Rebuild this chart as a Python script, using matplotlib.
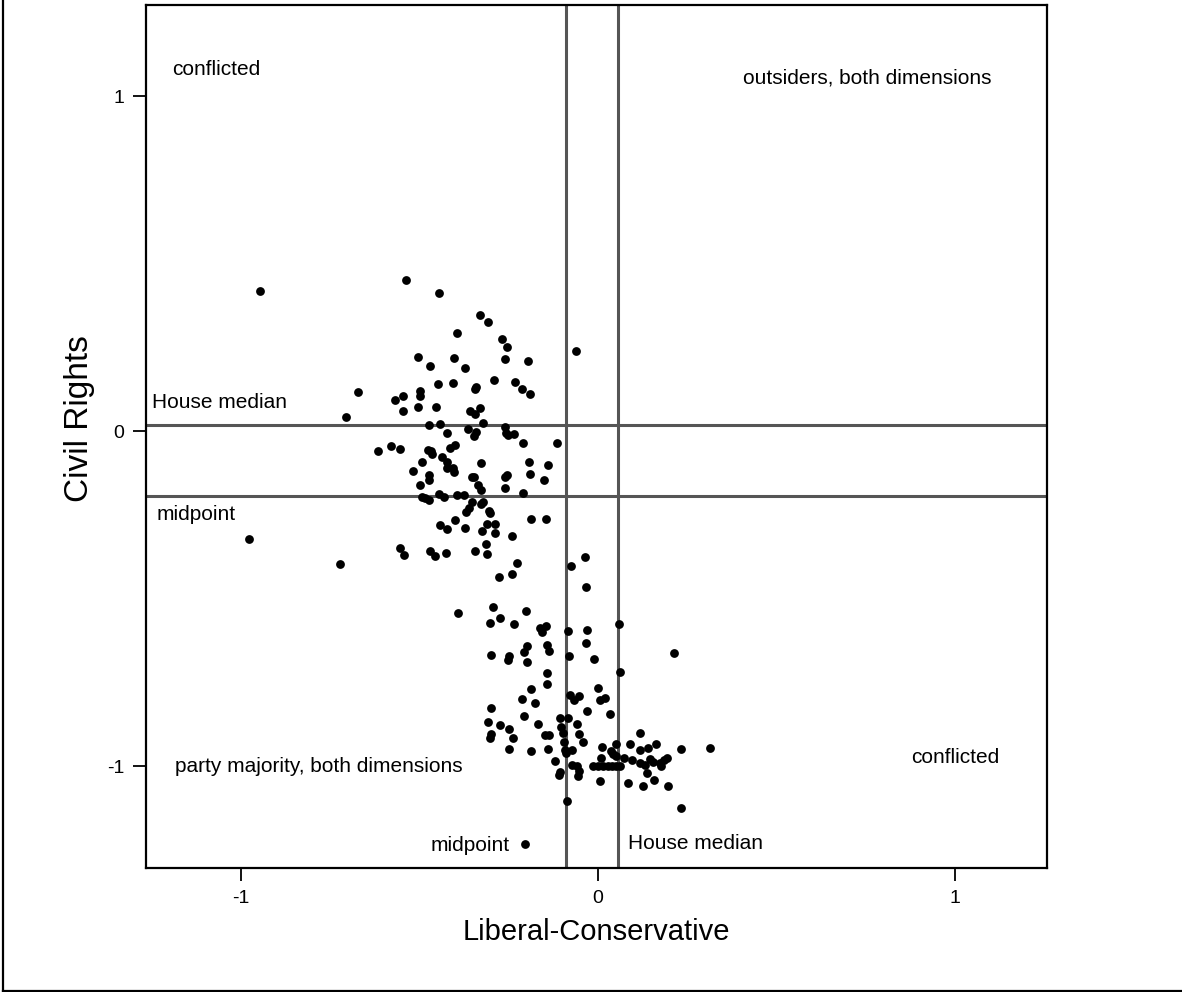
"""Two-dimensional roll-call map: liberal-conservative vs civil rights scores."""

from __future__ import annotations

import matplotlib

matplotlib.use("Agg")
import matplotlib.pyplot as plt
from matplotlib.lines import Line2D


OUTPUT = "out.png"

# Member scores (first dimension, second dimension).
LIB_CONS = [
    -0.947, -0.672, -0.705, -0.538, -0.446, -0.331, -0.308, -0.396, -0.270, -0.256,
    -0.503, -0.403, -0.261, -0.196, -0.471, -0.372, -0.291, -0.233, -0.448, -0.406,
    -0.341, -0.345, -0.212, -0.189, -0.498, -0.498, -0.547, -0.569, -0.547, -0.503,
    -0.454, -0.358, -0.330, -0.344, -0.321, -0.473, -0.443, -0.423, -0.363, -0.342,
    -0.348, -0.259, -0.257, -0.236, -0.251, -0.062, -0.209, -0.114, -0.617, -0.580,
    -0.555, -0.477, -0.468, -0.465, -0.415, -0.401, -0.438, -0.493, -0.422, -0.328,
    -0.193, -0.139, -0.518, -0.423, -0.406, -0.403, -0.473, -0.473, -0.353, -0.346,
    -0.259, -0.254, -0.191, -0.152, -0.498, -0.337, -0.328, -0.261, -0.211, -0.493,
    -0.484, -0.474, -0.445, -0.431, -0.395, -0.375, -0.353, -0.361, -0.370, -0.327,
    -0.322, -0.304, -0.302, -0.401, -0.441, -0.423, -0.373, -0.311, -0.289, -0.326,
    -0.289, -0.242, -0.187, -0.146, -0.314, -0.555, -0.543, -0.471, -0.456, -0.426,
    -0.344, -0.312, -0.227, -0.240, -0.276, -0.978, -0.722, -0.075, -0.036, -0.034,
    -0.393, -0.294, -0.202, -0.302, -0.274, -0.236, -0.162, -0.146, -0.157, -0.085,
    -0.030, 0.058, -0.033, -0.299, -0.250, -0.252, -0.200, -0.207, -0.199, -0.142,
    -0.136, -0.080, -0.012, 0.062, -0.142, -0.142, -0.187, -0.212, -0.176, -0.078,
    -0.067, -0.053, 0.000, 0.005, 0.020, -0.299, -0.030, 0.034, -0.206, -0.106,
    -0.083, -0.309, -0.275, -0.250, -0.169, -0.058, -0.104, -0.299, -0.303, -0.239,
    -0.148, -0.137, -0.097, -0.054, -0.041, -0.096, -0.249, -0.187, -0.140, -0.092,
    -0.090, -0.072, 0.011, -0.121, 0.008, -0.074, -0.060, -0.052, -0.057, -0.014,
    0.000, 0.014, 0.028, 0.039, 0.050, 0.062, -0.106, -0.110, 0.006, -0.088,
    -0.204, 0.212, 0.118, 0.051, 0.090, 0.164, 0.118, 0.140, 0.232, 0.315,
    0.038, 0.041, 0.050, 0.073, 0.095, 0.146, 0.155, 0.174, 0.177, 0.185,
    0.194, 0.118, 0.131, 0.138, 0.085, 0.125, 0.158, 0.197, 0.232,
]

CIVIL_RIGHTS = [
    0.417, 0.116, 0.043, 0.452, 0.412, 0.348, 0.326, 0.293, 0.276, 0.250,
    0.221, 0.218, 0.215, 0.208, 0.194, 0.189, 0.154, 0.146, 0.140, 0.145,
    0.132, 0.125, 0.125, 0.111, 0.120, 0.104, 0.104, 0.093, 0.061, 0.073,
    0.073, 0.059, 0.069, 0.052, 0.024, 0.017, 0.020, -0.005, 0.005, -0.004,
    -0.014, 0.013, -0.005, -0.010, -0.013, 0.239, -0.035, -0.035, -0.059, -0.045,
    -0.052, -0.055, -0.059, -0.069, -0.051, -0.040, -0.077, -0.093, -0.093, -0.096,
    -0.093, -0.101, -0.119, -0.110, -0.111, -0.122, -0.131, -0.146, -0.137, -0.138,
    -0.137, -0.131, -0.127, -0.145, -0.160, -0.162, -0.177, -0.169, -0.185, -0.198,
    -0.200, -0.207, -0.189, -0.197, -0.190, -0.190, -0.213, -0.228, -0.240, -0.217,
    -0.212, -0.238, -0.244, -0.264, -0.279, -0.293, -0.290, -0.276, -0.276, -0.299,
    -0.304, -0.313, -0.263, -0.263, -0.337, -0.349, -0.370, -0.357, -0.374, -0.363,
    -0.357, -0.368, -0.395, -0.427, -0.435, -0.321, -0.397, -0.403, -0.377, -0.466,
    -0.544, -0.524, -0.536, -0.572, -0.559, -0.575, -0.587, -0.582, -0.600, -0.597,
    -0.594, -0.577, -0.631, -0.669, -0.672, -0.683, -0.641, -0.658, -0.689, -0.639,
    -0.656, -0.671, -0.680, -0.720, -0.721, -0.756, -0.771, -0.800, -0.811, -0.787,
    -0.803, -0.791, -0.766, -0.803, -0.796, -0.825, -0.835, -0.843, -0.851, -0.856,
    -0.855, -0.868, -0.878, -0.889, -0.875, -0.873, -0.883, -0.904, -0.916, -0.916,
    -0.907, -0.907, -0.901, -0.904, -0.928, -0.929, -0.948, -0.955, -0.950, -0.951,
    -0.962, -0.953, -0.942, -0.984, -0.977, -0.997, -1.001, -1.014, -1.030, -1.000,
    -1.000, -1.000, -1.000, -1.000, -1.000, -1.000, -1.018, -1.027, -1.043, -1.104,
    -1.233, -0.661, -0.901, -0.933, -0.933, -0.933, -0.953, -0.947, -0.949, -0.947,
    -0.955, -0.963, -0.970, -0.976, -0.981, -0.979, -0.987, -0.992, -0.999, -0.983,
    -0.976, -0.992, -0.998, -1.019, -1.050, -1.059, -1.040, -1.059, -1.124,
]

# Reference lines: chamber median and cutting-line midpoint on each dimension.
X_MIDPOINT = -0.090
X_HOUSE_MEDIAN = 0.057
Y_HOUSE_MEDIAN = 0.017
Y_MIDPOINT = -0.194

TICKS = [-1, 0, 1]
TICK_LABELS = ["-1", "0", "1"]

LINE_COLOR = "#555555"


def draw_reference_lines(ax: plt.Axes) -> None:
    for x in (X_MIDPOINT, X_HOUSE_MEDIAN):
        ax.axvline(x, color=LINE_COLOR, linewidth=2.2, zorder=1)
    for y in (Y_HOUSE_MEDIAN, Y_MIDPOINT):
        ax.axhline(y, color=LINE_COLOR, linewidth=2.2, zorder=1)


def label_regions(ax: plt.Axes) -> None:
    size = 15
    ax.text(-1.193, 1.078, "conflicted", fontsize=size, va="center")
    ax.text(0.406, 1.054, "outsiders, both dimensions", fontsize=size, va="center")
    ax.text(-1.249, 0.084, "House median", fontsize=size, va="center")
    ax.text(-1.235, -0.250, "midpoint", fontsize=size, va="center")
    ax.text(-1.185, -1.0, "party majority, both dimensions", fontsize=size, va="center")
    ax.text(0.877, -0.973, "conflicted", fontsize=size, va="center")
    ax.text(-0.468, -1.236, "midpoint", fontsize=size, va="center")
    ax.text(0.084, -1.230, "House median", fontsize=size, va="center")


def main() -> None:
    plt.rcParams.update(
        {
            "font.family": ["Liberation Sans", "DejaVu Sans"],
            "figure.facecolor": "white",
            "axes.facecolor": "white",
        }
    )

    fig = plt.figure(figsize=(11.82, 9.92), dpi=100)
    ax = fig.add_axes([0.1235, 0.125, 0.7623, 0.870])

    draw_reference_lines(ax)
    ax.scatter(LIB_CONS, CIVIL_RIGHTS, s=40, color="black", linewidths=0, zorder=3)
    label_regions(ax)

    ax.set_xlim(-1.266, 1.258)
    ax.set_ylim(-1.304, 1.272)
    ax.set_xticks(TICKS)
    ax.set_xticklabels(TICK_LABELS)
    ax.set_yticks(TICKS)
    ax.set_yticklabels(TICK_LABELS)
    ax.tick_params(direction="out", length=9.5, width=1.3, labelsize=14, pad=6)

    for spine in ax.spines.values():
        spine.set_linewidth(1.6)
        spine.set_color("black")

    ax.set_xlabel("Liberal-Conservative", fontsize=21, labelpad=8)
    ax.set_ylabel("Civil Rights", fontsize=24)
    ax.yaxis.set_label_coords(-0.057, 0.521)

    # Outer frame around the whole graph region.
    fig.add_artist(Line2D([0.0025, 0.0025], [0.001, 1.0], transform=fig.transFigure,
                          color="black", linewidth=1.6))
    fig.add_artist(Line2D([0.0025, 1.0], [0.001, 0.001], transform=fig.transFigure,
                          color="black", linewidth=1.6))

    fig.savefig(OUTPUT, dpi=100)
    plt.close(fig)


if __name__ == "__main__":
    main()
